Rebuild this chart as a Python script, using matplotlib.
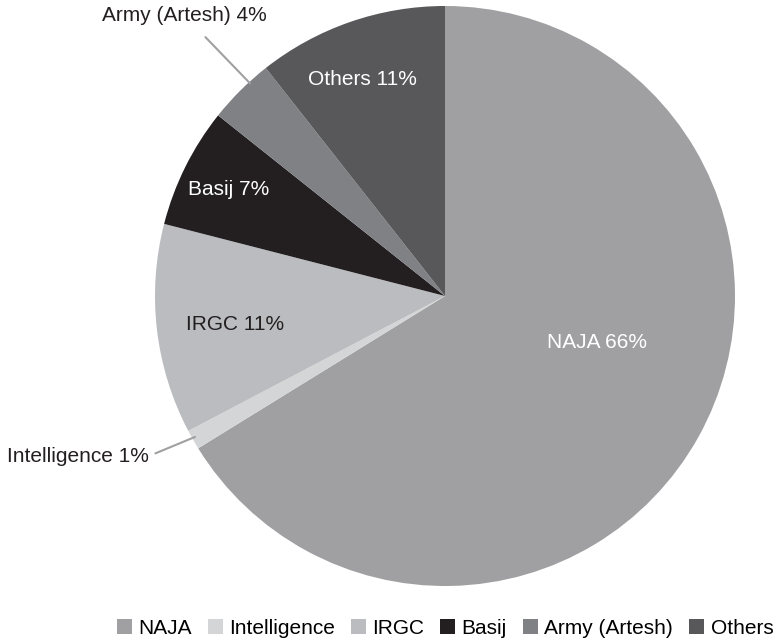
import matplotlib
matplotlib.use("Agg")
import matplotlib.pyplot as plt

labels = ["NAJA", "Intelligence", "IRGC", "Basij", "Army (Artesh)", "Others"]
shares = [66.2, 1.1, 11.7, 6.7, 3.7, 10.6]     # slice sizes as drawn
shown_pct = [66, 1, 11, 7, 4, 11]              # percentages printed on the chart
colors = ["#a0a0a2", "#d4d5d7", "#bbbcbf", "#231f20", "#808184", "#58585a"]

plt.rcParams["font.family"] = ["Liberation Sans", "DejaVu Sans"]


def main():
    fig = plt.figure(figsize=(7.77, 6.41), dpi=100)
    ax = fig.add_axes([155 / 777, (641 - 296 - 290) / 641, 580 / 777, 580 / 641])
    wedges, _ = ax.pie(shares, colors=colors, startangle=90, counterclock=False,
                       radius=1.0)
    ax.set_xlim(-1, 1)
    ax.set_ylim(-1, 1)
    ax.set_aspect("equal")

    # labels inside the slices
    inside = {0: (0.524, -0.162, "white"), 2: (-0.724, -0.10, "#231f20"),
              3: (-0.745, 0.366, "white"), 5: (-0.286, 0.745, "white")}
    for i, (x, y, c) in inside.items():
        ax.text(x, y, f"{labels[i]} {shown_pct[i]}%", color=c, fontsize=15,
                ha="center", va="center")

    # labels outside with leader lines
    ax.annotate(f"{labels[4]} {shown_pct[4]}%", xy=(-0.672, 0.733), xytext=(-0.897, 0.966),
                fontsize=15, ha="center", va="center", color="#231f20",
                arrowprops=dict(arrowstyle="-", color="#a0a0a2", lw=1.5,
                                shrinkA=9, shrinkB=0),
                annotation_clip=False)
    ax.annotate(f"{labels[1]} {shown_pct[1]}%", xy=(-0.862, -0.486), xytext=(-1.266, -0.552),
                fontsize=15, ha="center", va="center", color="#231f20",
                arrowprops=dict(arrowstyle="-", color="#a0a0a2", lw=1.5,
                                shrinkA=3, shrinkB=0, relpos=(1, 0.5)),
                annotation_clip=False)

    fig.legend(wedges, labels, loc="center", bbox_to_anchor=(445 / 777, 1 - 628 / 641),
               ncol=6, frameon=False, fontsize=15, handlelength=0.72, handleheight=0.72,
               handletextpad=0.3, columnspacing=0.78, borderpad=0.2)

    fig.savefig("out.png", dpi=100)


if __name__ == "__main__":
    main()
